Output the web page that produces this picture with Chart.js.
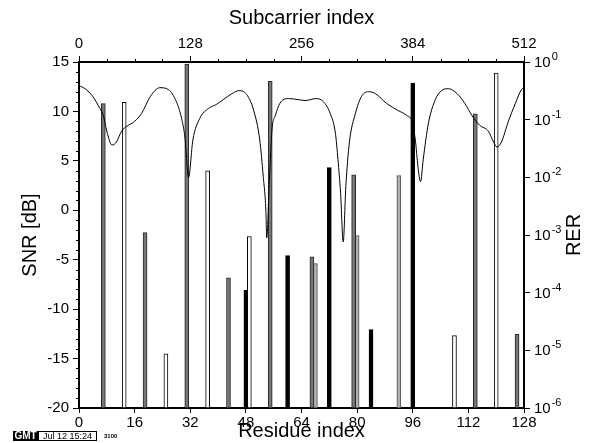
<!DOCTYPE html>
<html>
<head>
<meta charset="utf-8">
<script src="https://cdn.jsdelivr.net/npm/chart.js@4.4.1/dist/chart.umd.min.js"></script>
<style>
    html, body { margin: 0; padding: 0; background: #fff; }
</style>
</head>
<body>
<canvas id="snr-chart" width="607" height="443"></canvas>
<script>
// SNR over subcarriers (top axis) and RER per residue (bottom axis)
const snrSubcarrier = [0, 7, 16, 24, 28, 32, 38, 43, 49, 55, 64, 72, 82, 93, 103, 112, 118, 122, 126, 131,
    139, 149, 158, 166, 176, 184, 193, 201, 208, 212, 215, 216, 219, 222, 226, 231, 241, 252, 260, 273,
    281, 289, 295, 298, 301, 304, 307, 311, 318, 325, 333, 341, 354, 367, 377, 383, 387, 390, 393, 396,
    402, 410, 417, 425, 435, 444, 452, 461, 471, 477, 481, 486, 494, 502, 509, 512];
const snrDb = [12.6, 12.3, 11.5, 10.3, 9.6, 8.0, 6.6, 6.9, 8.0, 8.5, 9.0, 9.8, 11.5, 12.4, 12.2, 11.0, 9.3, 7.3, 3.3, 7.1,
    9.3, 10.3, 10.7, 11.2, 11.8, 12.1, 11.7, 10.1, 7.1, 3.4, 0.0, -2.8, 3.0, 8.1, 9.6, 10.8, 11.3, 11.2, 11.1, 11.3,
    11.0, 9.8, 7.8, 5.1, 1.7, -3.2, 2.4, 6.8, 9.8, 11.5, 12.0, 11.8, 10.8, 10.1, 9.6, 9.0, 7.1, 4.4, 2.9, 5.1,
    8.8, 11.2, 12.1, 12.3, 11.8, 10.8, 9.6, 8.6, 8.0, 6.9, 6.4, 6.9, 9.0, 10.8, 12.2, 12.4];

const grayResidue = [7, 19, 31, 43, 55, 67, 79, 114, 126];
const grayRer = [0.19, 1.1e-3, 0.92, 1.8e-4, 0.46, 4.2e-4, 0.011, 0.126, 1.9e-5];
const lightResidue = [68, 80, 92];
const lightRer = [3.2e-4, 9.8e-4, 0.0107];
const whiteResidue = [13, 25, 37, 49, 108, 120];
const whiteRer = [0.2, 8.7e-6, 0.013, 9.4e-4, 1.8e-5, 0.64];
const blackResidue = [48, 60, 72, 84, 96];
const blackRer = [1.1e-4, 4.4e-4, 0.0147, 2.3e-5, 0.43];

const residueTicks = [0, 16, 32, 48, 64, 80, 96, 112, 128];
const subcarrierTicks = [0, 128, 256, 384, 512];
const snrTicks = [-20, -15, -10, -5, 0, 5, 10, 15];
const rerTicks = [1e-6, 1e-5, 1e-4, 1e-3, 1e-2, 1e-1, 1];
const rerExponents = ['-6', '-5', '-4', '-3', '-2', '-1', '0'];

const FONT = 'Liberation Sans';
const tickFont = { family: FONT, size: 15 };
const titleFont = { family: FONT, size: 20 };

function points(xs, ys) {
    return xs.map((x, i) => ({ x: x, y: ys[i] }));
}

function barSet(xs, ys, fill, edge) {
    return {
        type: 'bar',
        data: points(xs, ys),
        xAxisID: 'x',
        yAxisID: 'y2',
        backgroundColor: fill,
        borderColor: edge,
        borderWidth: 1,
        borderSkipped: false,
        barThickness: 4,
        grouped: false,
        order: 1
    };
}

// short unlabeled ticks, 10^n labels, RER title and the GMT stamp
const extras = {
    id: 'extras',
    afterDraw(chart) {
        const { ctx, chartArea, scales } = chart;
        ctx.save();
        ctx.strokeStyle = '#000';
        ctx.lineWidth = 1;
        ctx.beginPath();
        for (let v = -20; v <= 15; v++) {
            if (v % 5 === 0) continue;
            const y = Math.round(scales.y.getPixelForValue(v)) + 0.5;
            ctx.moveTo(chartArea.left, y);
            ctx.lineTo(chartArea.left - 3, y);
        }
        for (let s = 32; s < 512; s += 32) {
            if (s % 128 === 0) continue;
            const x = Math.round(scales.x2.getPixelForValue(s)) + 0.5;
            ctx.moveTo(x, chartArea.top);
            ctx.lineTo(x, chartArea.top - 3);
        }
        ctx.stroke();

        ctx.fillStyle = '#000';
        ctx.textAlign = 'left';
        ctx.textBaseline = 'middle';
        rerTicks.forEach((v, i) => {
            const y = scales.y2.getPixelForValue(v);
            const x = chartArea.right + 10;
            ctx.font = '15px ' + FONT;
            ctx.fillText('10', x, y + 1);
            const w = ctx.measureText('10').width;
            ctx.font = '11px ' + FONT;
            ctx.fillText(rerExponents[i], x + w + 1, y - 5);
        });

        ctx.font = '20px ' + FONT;
        ctx.textAlign = 'center';
        ctx.translate(574, (chartArea.top + chartArea.bottom) / 2);
        ctx.rotate(-Math.PI / 2);
        ctx.fillText('RER', 0, 0);
        ctx.restore();

        ctx.save();
        ctx.fillStyle = '#000';
        ctx.fillRect(13, 431, 25, 10);
        ctx.strokeStyle = '#000';
        ctx.lineWidth = 1;
        ctx.strokeRect(38.5, 431.5, 58, 9);
        ctx.textBaseline = 'middle';
        ctx.textAlign = 'center';
        ctx.fillStyle = '#fff';
        ctx.font = 'bold 10px ' + FONT;
        ctx.fillText('GMT', 25.5, 436.5);
        ctx.fillStyle = '#000';
        ctx.font = '9px ' + FONT;
        ctx.fillText('Jul 12 15:24', 67.5, 436.5);
        ctx.font = 'bold 6px ' + FONT;
        ctx.textAlign = 'left';
        ctx.fillText('3100', 104, 436.5);
        ctx.restore();
    }
};

const ctx = document.getElementById('snr-chart');

new Chart(ctx, {
    data: {
        datasets: [
            {
                type: 'line',
                data: points(snrSubcarrier, snrDb),
                xAxisID: 'x2',
                yAxisID: 'y',
                borderColor: '#000',
                borderWidth: 1,
                pointRadius: 0,
                cubicInterpolationMode: 'monotone',
                fill: false,
                order: 0
            },
            barSet(grayResidue, grayRer, '#767676', '#262626'),
            barSet(lightResidue, lightRer, '#b0b0b0', '#505050'),
            barSet(whiteResidue, whiteRer, '#fff', '#000'),
            barSet(blackResidue, blackRer, '#000', '#000')
        ]
    },
    options: {
        responsive: false,
        animation: false,
        layout: { padding: 0 },
        plugins: {
            legend: { display: false },
            tooltip: { enabled: false }
        },
        scales: {
            x: {
                type: 'linear',
                position: 'bottom',
                min: 0,
                max: 128,
                offset: false,
                afterBuildTicks: s => { s.ticks = residueTicks.map(v => ({ value: v })); },
                afterFit: s => { s.height = 35; },
                ticks: { color: '#000', font: tickFont, padding: 1, maxRotation: 0, autoSkip: false },
                grid: { drawOnChartArea: false, offset: false, tickLength: 5, color: '#000' },
                border: { color: '#000', width: 2 },
                title: { display: true, text: 'Residue index', color: '#000', font: titleFont, padding: 0 }
            },
            x2: {
                type: 'linear',
                position: 'top',
                min: 0,
                max: 512,
                offset: false,
                afterBuildTicks: s => { s.ticks = subcarrierTicks.map(v => ({ value: v })); },
                afterFit: s => { s.height = 62; },
                ticks: { color: '#000', font: tickFont, padding: 3, maxRotation: 0, autoSkip: false },
                grid: { drawOnChartArea: false, offset: false, tickLength: 6, color: '#000' },
                border: { color: '#000', width: 2 },
                title: { display: true, text: 'Subcarrier index', color: '#000', font: titleFont, padding: { top: 6, bottom: 0 } }
            },
            y: {
                type: 'linear',
                position: 'left',
                min: -20,
                max: 15,
                afterBuildTicks: s => { s.ticks = snrTicks.map(v => ({ value: v })); },
                afterFit: s => { s.width = 79; },
                ticks: { color: '#000', font: tickFont, padding: 4 },
                grid: { drawOnChartArea: false, tickLength: 6, color: '#000' },
                border: { color: '#000', width: 2 },
                title: { display: true, text: 'SNR [dB]', color: '#000', font: titleFont, padding: { top: 18, bottom: 0 } }
            },
            y2: {
                type: 'logarithmic',
                position: 'right',
                min: 1e-6,
                max: 1,
                afterBuildTicks: s => { s.ticks = rerTicks.map(v => ({ value: v })); },
                afterFit: s => { s.width = 83; },
                ticks: { display: false },
                grid: { drawOnChartArea: false, tickLength: 6, color: '#000' },
                border: { color: '#000', width: 2 }
            }
        }
    },
    plugins: [extras]
});
</script>
</body>
</html>
